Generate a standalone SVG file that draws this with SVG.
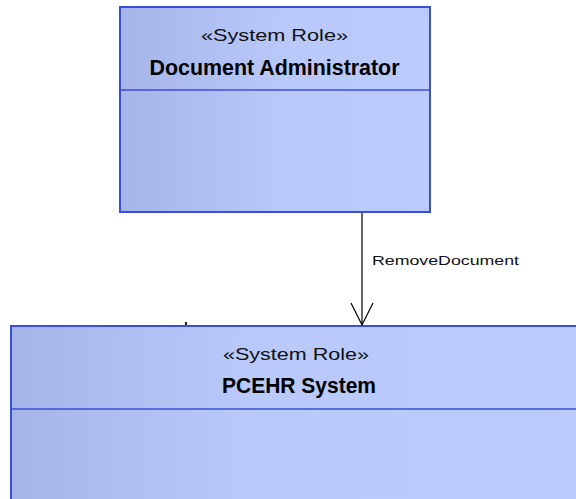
<svg xmlns="http://www.w3.org/2000/svg" width="576" height="499" viewBox="0 0 576 499">
  <defs>
    <linearGradient id="fill" x1="0" y1="0" x2="1" y2="0">
      <stop offset="0" stop-color="#a6b5e8"/>
      <stop offset="0.55" stop-color="#b9c9fa"/>
      <stop offset="1" stop-color="#bacafb"/>
    </linearGradient>
    <linearGradient id="fill2" x1="0" y1="0" x2="1" y2="0">
      <stop offset="0" stop-color="#a6b5e8"/>
      <stop offset="0.42" stop-color="#b9c9fa"/>
      <stop offset="1" stop-color="#bacafb"/>
    </linearGradient>
  </defs>
  <style>
    .box { stroke: #3a4fd8; stroke-width: 2; }
    .div { stroke: #3a4fd8; stroke-width: 1.5; fill: none; }
    .st { font-family: "Liberation Sans", Arial, sans-serif; font-size: 16.5px; fill: #111; }
    .nm { font-family: "Liberation Sans", Arial, sans-serif; font-size: 22px; font-weight: bold; fill: #000; }
    .lbl { font-family: "Liberation Sans", Arial, sans-serif; font-size: 13px; fill: #111; }
    .conn { stroke: #000; stroke-width: 1.2; fill: none; }
  </style>
  <rect width="576" height="499" fill="#ffffff"/>
  <g id="node-document-administrator">
    <rect class="box" x="120" y="7" width="310" height="205" fill="url(#fill)"/>
    <line class="div" x1="120" y1="90" x2="430" y2="90"/>
    <text class="st" x="274.5" y="41" text-anchor="middle" textLength="147" lengthAdjust="spacingAndGlyphs">«System Role»</text>
    <text class="nm" x="274.5" y="75" text-anchor="middle" textLength="250" lengthAdjust="spacingAndGlyphs">Document Administrator</text>
  </g>
  <g id="node-pcehr-system">
    <rect class="box" x="11" y="326" width="580" height="190" fill="url(#fill2)"/>
    <line class="div" x1="11" y1="409" x2="591" y2="409"/>
    <text class="st" x="296" y="360" text-anchor="middle" textLength="146" lengthAdjust="spacingAndGlyphs">«System Role»</text>
    <text class="nm" x="299" y="393" text-anchor="middle" textLength="154" lengthAdjust="spacingAndGlyphs">PCEHR System</text>
    <rect x="185" y="322" width="2" height="3" fill="#222"/>
  </g>
  <g id="connectors">
    <line class="conn" x1="362" y1="213" x2="362" y2="325"/>
    <polyline class="conn" points="351,303 362,325 373,303"/>
    <text class="lbl" x="372" y="265" textLength="147" lengthAdjust="spacingAndGlyphs">RemoveDocument</text>
  </g>
</svg>
